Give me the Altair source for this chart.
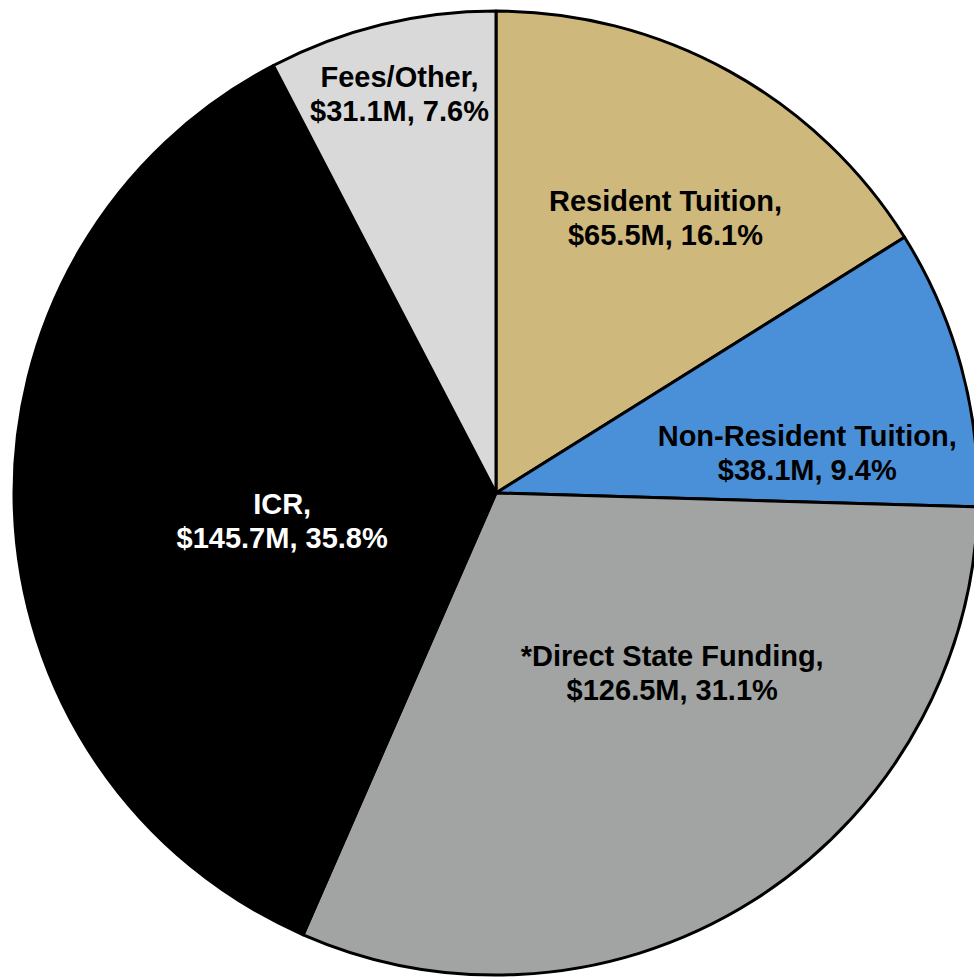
import math
import altair as alt
import pandas as pd

# ---- data ----
categories = ["Resident Tuition", "Non-Resident Tuition", "*Direct State Funding", "ICR", "Fees/Other"]
values = [65.5, 38.1, 126.5, 145.7, 31.1]          # $M
percents = [16.1, 9.4, 31.1, 35.8, 7.6]            # %

# ---- styling ----
colors = ["#CEB87C", "#4A90D9", "#A2A4A3", "#000000", "#D9D9D9"]
text_colors = ["black", "black", "black", "white", "black"]

CX, CY, R = 496, 493, 482
# label placement: radius along the slice's mid-angle plus small nudges
label_layout = {
    "Resident Tuition": (323, 13, -8),
    "Non-Resident Tuition": (308, 14, 25),
    "*Direct State Funding": (245, 45, -43),
    "ICR": (215, 1, 5),
    "Fees/Other": (410, 1, -17),
}

df = pd.DataFrame({
    "category": categories,
    "value": values,
    "pct": percents,
    "idx": list(range(len(categories))),
})
total = sum(values)
theta_scale = alt.Scale(domain=[0, total], range=[0, 2 * math.pi])

base = (
    alt.Chart(df)
    .transform_window(cum="sum(value)", sort=[{"field": "idx"}], frame=[None, 0])
    .transform_calculate(
        start="datum.cum - datum.value",
        mid="datum.cum - datum.value / 2",
        lines="[datum.category + ',', '$' + format(datum.value, '.1f') + 'M, ' + format(datum.pct, '.1f') + '%']",
    )
)

arcs = base.mark_arc(
    outerRadius=R, stroke="black", strokeWidth=3, strokeJoin="round"
).encode(
    theta=alt.Theta("start:Q", scale=theta_scale),
    theta2="cum:Q",
    color=alt.Color("category:N", scale=alt.Scale(domain=categories, range=colors), legend=None),
    x=alt.value(CX),
    y=alt.value(CY),
)

layers = [arcs]
for cat, tcol in zip(categories, text_colors):
    r, dx, dy = label_layout[cat]
    layers.append(
        base.transform_filter(alt.datum.category == cat)
        .mark_text(
            radius=r, dx=dx, dy=dy, font="Liberation Sans", fontWeight="bold",
            fontSize=29, lineHeight=34, align="center", baseline="middle", color=tcol,
        )
        .encode(
            theta=alt.Theta("mid:Q", scale=theta_scale),
            text=alt.Text("lines:N"),
            x=alt.value(CX),
            y=alt.value(CY),
        )
    )

chart = (
    alt.layer(*layers)
    .properties(width=974, height=978, padding=0, autosize=alt.AutoSizeParams(type="none"),
                background="white")
    .configure_view(stroke=None)
)

chart.save("out.html", embed_options={"renderer": "svg", "actions": False})
